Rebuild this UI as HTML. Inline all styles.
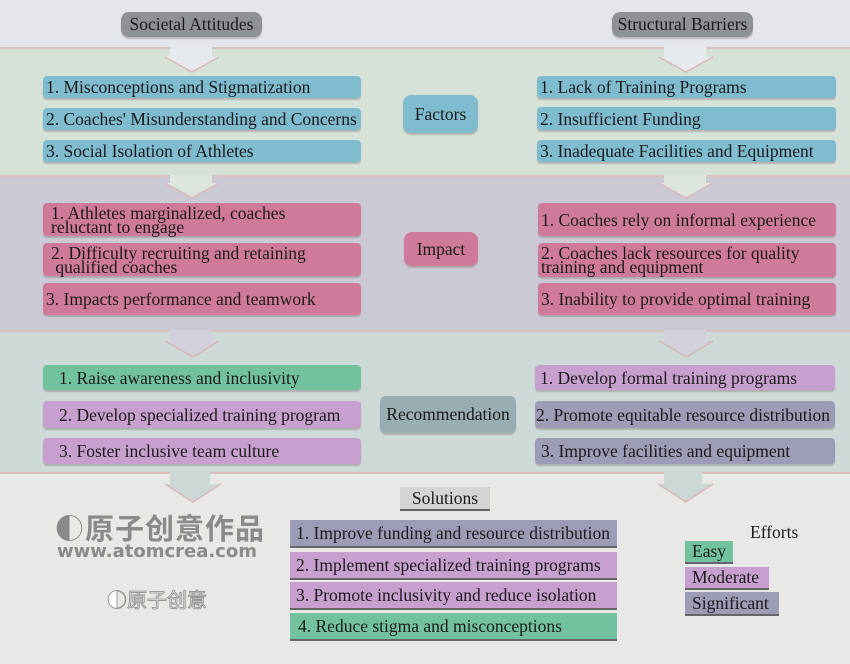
<!DOCTYPE html>
<html><head><meta charset="utf-8"><style>
*{margin:0;padding:0;box-sizing:border-box}
body{width:850px;height:664px;position:relative;overflow:hidden;font-family:"Liberation Serif",serif;color:#1a1a1a;background:#e8e8e6}
.band{position:absolute;left:0;width:850px}
.b{position:absolute;font-size:17.5px;line-height:16px;padding-left:8px;display:flex;align-items:center;border-radius:4px;box-shadow:0 2px 1px rgba(120,100,100,.35);white-space:nowrap}
.two{line-height:14px}
.bl{background:#7fbccf}.pk{background:#d07a9b}.gr{background:#72c29f}.pu{background:#c8a0cf}.sl{background:#9c9cb6}
.lab{position:absolute;display:flex;align-items:center;justify-content:center;font-size:17.5px;border-radius:8px;box-shadow:0 2px 1px rgba(120,100,100,.35)}
.sq{position:absolute;font-size:17.5px;display:flex;align-items:center;padding-left:9px;border-bottom:2px solid #666;white-space:nowrap}
</style></head><body>
<div class="band" style="top:0;height:47px;background:#e4e6ea"></div>
<div class="band" style="top:47px;height:129px;background:#d6e2d8;border-top:2px solid #d8c2bf"></div>
<div class="band" style="top:175px;height:156px;background:#cbcad4;border-top:2px solid #d8c2bf"></div>
<div class="band" style="top:330px;height:143px;background:#cddad8;border-top:2px solid #d8c2bf"></div>
<div class="band" style="top:472px;height:192px;background:#e8e8e6;border-top:2px solid #dcbfb8"></div>

<svg width="850" height="664" style="position:absolute;left:0;top:0">
<g fill="#e6eaec" stroke="none">
<polygon points="170,47 212,47 212,57 219,57 192,72 165,57 170,57"/>
<polygon points="664,47 706,47 706,57 713,57 686,72 659,57 664,57"/>
<polygon points="170,175 212,175 212,183 219,183 192,198 165,183 170,183" fill="#dde6de"/>
<polygon points="664,175 706,175 706,183 713,183 686,198 659,183 664,183" fill="#dde6de"/>
<polygon points="170,330 212,330 212,341 219,341 193,357 165,341 170,341" fill="#d2d0da"/>
<polygon points="664,330 706,330 706,341 713,341 687,357 659,341 664,341" fill="#d2d0da"/>
<polygon points="170,472 210,472 210,484 221,484 193,502 165,484 170,484" fill="#cbd8d6"/>
<polygon points="664,472 702,472 702,484 713,484 686,502 658,484 664,484" fill="#cbd8d6"/>
</g>
<g fill="none" stroke="#d8b8b8" stroke-width="1.5">
<polyline points="165,57 192,72 219,57"/><polyline points="659,57 686,72 713,57"/>
<polyline points="165,183 192,198 219,183"/><polyline points="659,183 686,198 713,183"/>
<polyline points="165,341 193,357 219,341"/><polyline points="659,341 687,357 713,341"/>
<polyline points="165,484 193,502 221,484"/><polyline points="658,484 686,502 713,484"/>
</g>
</svg>

<div class="lab" style="left:121px;top:12px;width:141px;height:25px;background:#8e9196;font-size:17.5px">Societal Attitudes</div>
<div class="lab" style="left:612px;top:12px;width:141px;height:25px;background:#8e9196;font-size:17.5px">Structural Barriers</div>

<div class="b bl" style="left:43px;top:76px;width:318px;height:22px;padding-left:3px">1. Misconceptions and Stigmatization</div>
<div class="b bl" style="left:43px;top:108px;width:318px;height:22px;padding-left:3px">2. Coaches' Misunderstanding and Concerns</div>
<div class="b bl" style="left:43px;top:140px;width:318px;height:22px;padding-left:3px">3. Social Isolation of Athletes</div>
<div class="lab bl" style="left:403px;top:95px;width:75px;height:38px">Factors</div>
<div class="b bl" style="left:537px;top:76px;width:299px;height:22px;padding-left:3px">1. Lack of Training Programs</div>
<div class="b bl" style="left:537px;top:107px;width:299px;height:23px;padding-left:3px">2. Insufficient Funding</div>
<div class="b bl" style="left:537px;top:140px;width:299px;height:22px;padding-left:3px">3. Inadequate Facilities and Equipment</div>

<div class="b pk two" style="left:43px;top:203px;width:318px;height:33px">1. Athletes marginalized, coaches<br>reluctant to engage</div>
<div class="b pk two" style="left:43px;top:243px;width:318px;height:33px">2. Difficulty recruiting and retaining<br>&nbsp;qualified coaches</div>
<div class="b pk" style="left:43px;top:283px;width:318px;height:32px;padding-left:3px">3. Impacts performance and teamwork</div>
<div class="lab pk" style="left:404px;top:232px;width:74px;height:34px">Impact</div>
<div class="b pk" style="left:538px;top:203px;width:298px;height:33px;padding-left:3px">1. Coaches rely on informal experience</div>
<div class="b pk two" style="left:538px;top:243px;width:298px;height:34px;padding-left:3px">2. Coaches lack resources for quality<br>training and equipment</div>
<div class="b pk" style="left:538px;top:283px;width:298px;height:32px;padding-left:3px">3. Inability to provide optimal training</div>

<div class="b gr" style="left:43px;top:365px;width:318px;height:25px;padding-left:16px">1. Raise awareness and inclusivity</div>
<div class="b pu" style="left:43px;top:401px;width:318px;height:27px;padding-left:16px">2. Develop specialized training program</div>
<div class="b pu" style="left:43px;top:438px;width:318px;height:26px;padding-left:16px">3. Foster inclusive team culture</div>
<div class="lab" style="left:380px;top:396px;width:136px;height:37px;background:#98aeb2;border-radius:6px">Recommendation</div>
<div class="b pu" style="left:535px;top:365px;width:300px;height:25px;padding-left:5px">1. Develop formal training programs</div>
<div class="b sl" style="left:535px;top:401px;width:300px;height:27px;padding-left:1px">2. Promote equitable resource distribution</div>
<div class="b sl" style="left:535px;top:438px;width:300px;height:26px;padding-left:6px">3. Improve facilities and equipment</div>

<div class="sq" style="left:400px;top:487px;width:90px;height:24px;background:#d4d4d4;justify-content:center;padding:0">Solutions</div>
<div class="sq sl" style="left:290px;top:520px;width:327px;height:28px;padding-left:6px">1. Improve funding and resource distribution</div>
<div class="sq pu" style="left:290px;top:552px;width:327px;height:28px;padding-left:6px">2. Implement specialized training programs</div>
<div class="sq pu" style="left:290px;top:582px;width:327px;height:28px;padding-left:6px">3. Promote inclusivity and reduce isolation</div>
<div class="sq gr" style="left:290px;top:613px;width:327px;height:28px;padding-left:8px">4. Reduce stigma and misconceptions</div>

<div style="position:absolute;left:750px;top:522px;font-size:17.5px">Efforts</div>
<div class="sq gr" style="left:685px;top:541px;width:48px;height:23px;padding-left:7px">Easy</div>
<div class="sq pu" style="left:685px;top:567px;width:84px;height:23px;padding-left:7px">Moderate</div>
<div class="sq sl" style="left:685px;top:592px;width:94px;height:24px;padding-left:7px">Significant</div>

<div style="position:absolute;left:55px;top:510px;font-family:'Noto Sans CJK SC',sans-serif;font-size:29px;font-weight:bold;color:#8a8a8a;line-height:34px;letter-spacing:1px">◐原子创意作品</div>
<div style="position:absolute;left:57px;top:541px;font-family:'DejaVu Sans',sans-serif;font-size:18px;font-weight:bold;color:#8a8a8a">www.atomcrea.com</div>
<div style="position:absolute;left:107px;top:584px;font-family:'Noto Sans CJK SC',sans-serif;font-size:20px;color:#fff;-webkit-text-stroke:1px #999">◐原子创意</div>
</body></html>
